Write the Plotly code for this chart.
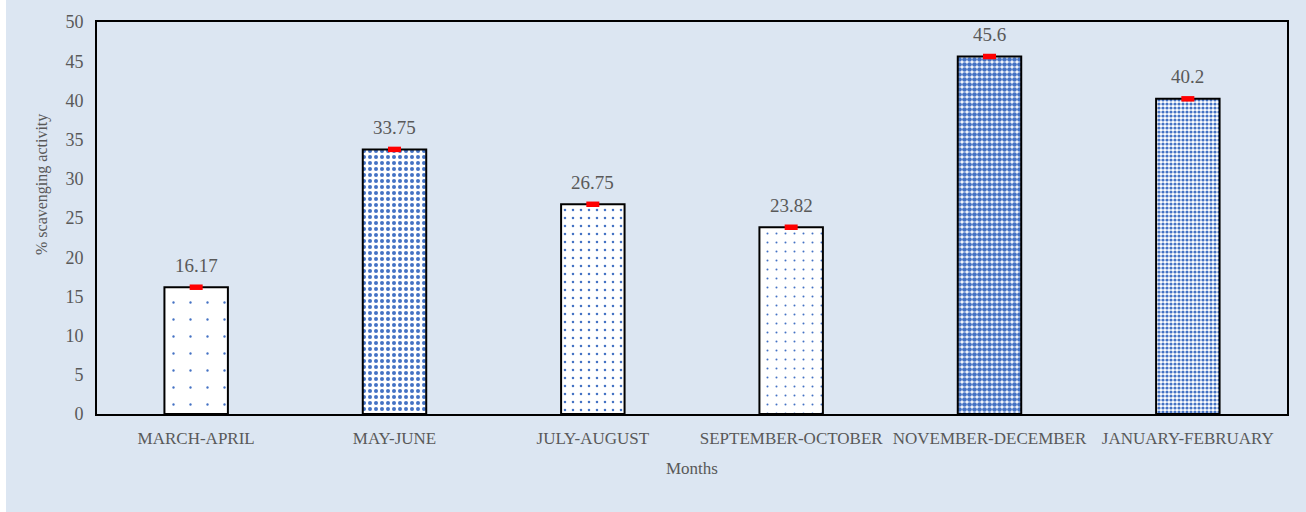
import plotly.graph_objects as go

categories = ["MARCH-APRIL", "MAY-JUNE", "JULY-AUGUST", "SEPTEMBER-OCTOBER",
              "NOVEMBER-DECEMBER", "JANUARY-FEBRUARY"]
values = [16.17, 33.75, 26.75, 23.82, 45.6, 40.2]
errors = [0.35, 0.35, 0.35, 0.35, 0.35, 0.35]
labels = ["16.17", "33.75", "26.75", "23.82", "45.6", "40.2"]

pattern_sizes = [17, 6, 8, 9, 5, 4]
pattern_solidity = [0.015, 0.35, 0.08, 0.04, 0.7, 0.5]

BG = "#dce6f2"
TXT = "#595959"
FONT = "Liberation Serif"

fig = go.Figure()
fig.add_trace(go.Bar(
    x=categories, y=values, width=0.32,
    marker=dict(
        color="white",
        line=dict(color="black", width=2),
        pattern=dict(shape=".", fgcolor="#4472c4", bgcolor="white", fgopacity=1,
                     size=pattern_sizes, solidity=pattern_solidity,
                     fillmode="replace"),
    ),
    error_y=dict(type="data", array=errors, color="#ff0000", thickness=13, width=0),
    showlegend=False,
))

for c, v, t in zip(categories, values, labels):
    fig.add_annotation(x=c, y=v, text=t, showarrow=False, yshift=22,
                       font=dict(family=FONT, size=19, color=TXT))

fig.add_annotation(xref="paper", yref="paper", x=0.5, y=-54/392, yanchor="middle",
                   text="Months", showarrow=False,
                   font=dict(family=FONT, size=17, color=TXT))
fig.add_annotation(xref="paper", yref="paper", x=-55/1190, y=(414 - 185) / 392,
                   xanchor="center", yanchor="middle", textangle=-90,
                   text="% scavenging activity", showarrow=False,
                   font=dict(family=FONT, size=16, color=TXT))

fig.add_shape(type="rect", xref="paper", yref="paper", x0=-97/1190, x1=-91/1190,
              y0=-98/392, y1=1 + 22/392, fillcolor="white", line=dict(width=0), layer="below")

fig.update_layout(
    width=1306, height=512,
    margin=dict(l=97, r=19, t=22, b=98),
    paper_bgcolor=BG, plot_bgcolor=BG,
    font=dict(family=FONT, size=15, color=TXT),
    bargap=0.68,
    xaxis=dict(showline=True, linecolor="black", linewidth=2, mirror=True,
               ticks="", showgrid=False, ticklabelstandoff=8,
               tickfont=dict(family=FONT, size=17, color=TXT)),
    yaxis=dict(range=[0, 50], dtick=5, showline=True, linecolor="black", linewidth=2,
               mirror=True, ticks="", showgrid=False, zeroline=False, ticklabelstandoff=8,
               tickfont=dict(family=FONT, size=18, color=TXT)),
)

fig.write_html("out.html")
